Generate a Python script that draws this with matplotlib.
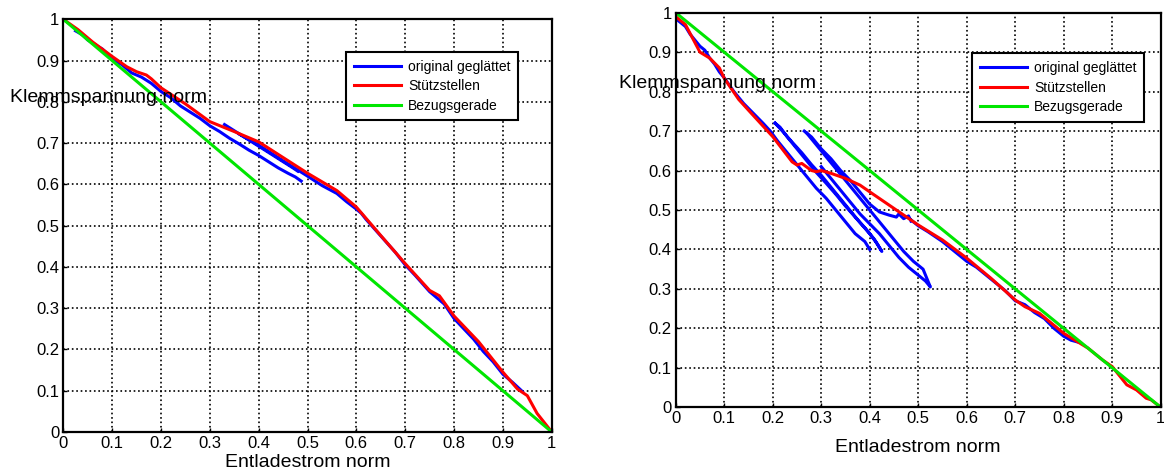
import numpy as np
import matplotlib
matplotlib.use("Agg")
import matplotlib.pyplot as plt

plt.rcParams["font.family"] = ["Liberation Sans", "DejaVu Sans"]

# --- left panel -------------------------------------------------------------
l_red_x = [0, 0.03, 0.06, 0.1, 0.13, 0.15, 0.17, 0.18, 0.2, 0.25, 0.3, 0.35, 0.4, 0.45,
           0.5, 0.56, 0.6, 0.65, 0.7, 0.75, 0.77, 0.8, 0.85, 0.9, 0.93, 0.95, 0.97, 1.0]
l_red_y = [1, 0.975, 0.945, 0.91, 0.885, 0.873, 0.865, 0.856, 0.834, 0.795, 0.752, 0.728, 0.703,
           0.665, 0.627, 0.585, 0.545, 0.476, 0.408, 0.343, 0.33, 0.281, 0.219, 0.145, 0.104,
           0.088, 0.045, 0.0]

l_blue_x = [0.025, 0.04, 0.05, 0.07, 0.08, 0.1, 0.12, 0.14, 0.16, 0.18, 0.2, 0.22, 0.24, 0.26,
            0.28, 0.3, 0.32, 0.34, 0.36, 0.38, 0.4, 0.42, 0.44, 0.46, 0.475, 0.487, np.nan,
            0.33, 0.35, 0.37, 0.39, 0.41, 0.43, 0.45, 0.47, 0.48, np.nan,
            0.36, 0.4, 0.45, 0.5, 0.53, 0.56, 0.58, 0.6, 0.61, 0.62, 0.65, 0.68, 0.7, 0.72,
            0.75, 0.78, 0.8, 0.82, 0.84, 0.86, 0.88, 0.9, 0.92, 0.94]
l_blue_y = [0.972, 0.962, 0.95, 0.935, 0.928, 0.905, 0.89, 0.87, 0.86, 0.845, 0.825, 0.81, 0.79,
            0.775, 0.76, 0.742, 0.728, 0.712, 0.698, 0.683, 0.67, 0.655, 0.64, 0.627, 0.618,
            0.608, np.nan,
            0.745, 0.73, 0.715, 0.70, 0.685, 0.67, 0.655, 0.64, 0.632, np.nan,
            0.722, 0.695, 0.657, 0.62, 0.597, 0.578, 0.558, 0.54, 0.53, 0.515, 0.475, 0.435,
            0.405, 0.38, 0.34, 0.31, 0.275, 0.25, 0.225, 0.195, 0.17, 0.14, 0.12, 0.098]

# --- right panel ------------------------------------------------------------
r_red_x = [0, 0.02, 0.05, 0.07, 0.09, 0.1, 0.13, 0.15, 0.2, 0.24, 0.25, 0.26, 0.28, 0.29, 0.3,
           0.32, 0.35, 0.38, 0.4, 0.45, 0.5, 0.55, 0.6, 0.65, 0.7, 0.72, 0.75, 0.8, 0.85,
           0.88, 0.9, 0.93, 0.95, 0.97, 0.98, 1.0]
r_red_y = [0.99, 0.97, 0.90, 0.885, 0.86, 0.834, 0.78, 0.753, 0.686, 0.622, 0.614, 0.618, 0.60,
           0.597, 0.60, 0.593, 0.58, 0.563, 0.546, 0.504, 0.462, 0.424, 0.378, 0.327, 0.272,
           0.255, 0.238, 0.1875, 0.15, 0.12, 0.103, 0.057, 0.044, 0.023, 0.019, 0.0]

r_blue_x = [0.0, 0.02, 0.03, 0.04, 0.05, 0.06, 0.07, 0.08, 0.09, 0.1, 0.12, 0.14, 0.16, 0.18,
            0.195, 0.21, 0.23, 0.25, 0.27, 0.29, 0.31, 0.33, 0.35, 0.37, 0.39, 0.40, np.nan,
            0.205, 0.22, 0.24, 0.26, 0.28, 0.30, 0.32, 0.34, 0.36, 0.38, 0.40, 0.415, 0.425,
            0.41, 0.39, 0.37, 0.35, 0.33, 0.31, 0.29, 0.27, 0.25, 0.23, 0.215, 0.205, np.nan,
            0.265, 0.28, 0.30, 0.32, 0.34, 0.36, 0.38, 0.40, 0.42, 0.44, 0.455, 0.46, 0.47,
            0.48, 0.485, np.nan,
            0.27, 0.29, 0.31, 0.33, 0.35, 0.37, 0.39, 0.41, 0.43, 0.45, 0.47, 0.49, 0.51, 0.525,
            0.515, 0.50, 0.48, 0.46, 0.44, 0.42, 0.40, 0.38, 0.36, 0.34, 0.32, 0.30, np.nan,
            0.48, 0.5, 0.52, 0.55, 0.58, 0.6, 0.62, 0.65, 0.68, 0.7, 0.72, 0.74, 0.76, 0.78,
            0.8, 0.815, 0.827]
r_blue_y = [0.985, 0.965, 0.945, 0.93, 0.915, 0.905, 0.885, 0.87, 0.85, 0.835, 0.80, 0.77,
            0.745, 0.72, 0.70, 0.675, 0.645, 0.615, 0.585, 0.555, 0.53, 0.50, 0.47, 0.44,
            0.42, 0.40, np.nan,
            0.72, 0.70, 0.672, 0.645, 0.615, 0.588, 0.558, 0.528, 0.498, 0.468, 0.44, 0.415,
            0.395, 0.425, 0.455, 0.482, 0.51, 0.54, 0.568, 0.595, 0.625, 0.655, 0.685, 0.71,
            0.72, np.nan,
            0.70, 0.685, 0.655, 0.63, 0.60, 0.575, 0.545, 0.515, 0.495, 0.487, 0.482, 0.49,
            0.478, 0.485, 0.472, np.nan,
            0.695, 0.665, 0.635, 0.605, 0.575, 0.545, 0.515, 0.485, 0.455, 0.425, 0.395, 0.37,
            0.35, 0.305, 0.32, 0.335, 0.355, 0.38, 0.41, 0.44, 0.465, 0.49, 0.52, 0.55, 0.58,
            0.61, np.nan,
            0.48, 0.46, 0.445, 0.42, 0.39, 0.37, 0.355, 0.325, 0.295, 0.27, 0.26, 0.24, 0.225,
            0.2, 0.18, 0.17, 0.166]

ref_x = [0, 1]
ref_y = [1, 0]

ticks = [0, 0.1, 0.2, 0.3, 0.4, 0.5, 0.6, 0.7, 0.8, 0.9, 1]
tick_labels = ["0", "0.1", "0.2", "0.3", "0.4", "0.5", "0.6", "0.7", "0.8", "0.9", "1"]
legend_labels = ["original geglättet", "Stützstellen", "Bezugsgerade"]
x_label = "Entladestrom norm"
y_label = "Klemmspannung norm"

fig = plt.figure(figsize=(11.64, 4.70), dpi=100)
ax_l = fig.add_axes([0.0544, 0.0809, 0.4196, 0.878])
ax_r = fig.add_axes([0.5805, 0.1334, 0.4167, 0.8396])


def draw(ax, bx, by, rx, ry, leg_anchor, ylab_pos, xlab_pad):
    h1, = ax.plot(bx, by, color=(0, 0, 1), lw=2.2)
    h2, = ax.plot(rx, ry, color=(1, 0, 0), lw=2.2)
    h3, = ax.plot(ref_x, ref_y, color=(0, 0.9, 0), lw=2.2)
    ax.set_xlim(0, 1)
    ax.set_ylim(0, 1)
    ax.set_xticks(ticks)
    ax.set_xticklabels(tick_labels)
    ax.set_yticks(ticks)
    ax.set_yticklabels(tick_labels)
    ax.tick_params(direction="in", length=3, width=1, labelsize=12, pad=3, colors="black")
    ax.grid(True, color="black", linestyle=":", linewidth=1.2)
    for sp in ax.spines.values():
        sp.set_linewidth(1.6)
        sp.set_color("black")
    ax.set_xlabel(x_label, fontsize=14, labelpad=xlab_pad)
    ax.text(ylab_pos[0], ylab_pos[1], y_label, transform=ax.transAxes, fontsize=14,
            ha="left", va="center", clip_on=False)
    leg = ax.legend([h1, h2, h3], legend_labels, loc="upper left", bbox_to_anchor=leg_anchor,
                    fontsize=10, frameon=True, fancybox=False, shadow=False, framealpha=1,
                    handlelength=3.4, handletextpad=0.5, borderpad=0.55, labelspacing=0.4,
                    borderaxespad=0)
    leg.get_frame().set_edgecolor("black")
    leg.get_frame().set_linewidth(1.5)


draw(ax_l, l_blue_x, l_blue_y, l_red_x, l_red_y, (0.579, 0.921), (-0.109, 0.81), 2)
draw(ax_r, r_blue_x, r_blue_y, r_red_x, r_red_y, (0.611, 0.897), (-0.116, 0.82), 9)

fig.savefig("out.png", dpi=100)
